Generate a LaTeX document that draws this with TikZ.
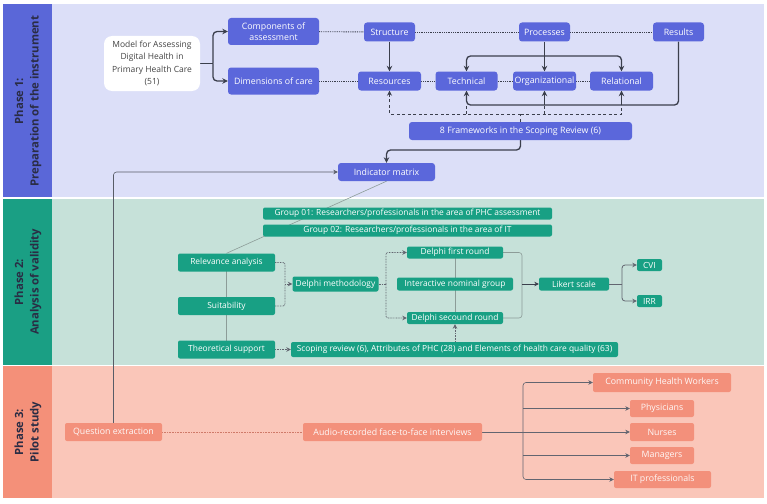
\documentclass[tikz,border=0pt]{standalone}
\usepackage{fontspec}
\setmainfont{Open Sans}
\usetikzlibrary{arrows.meta}
\definecolor{bgA}{HTML}{DCDFF8}
\definecolor{colA}{HTML}{5A67D8}
\definecolor{nodeA}{HTML}{5B67DB}
\definecolor{bgB}{HTML}{C6E1D9}
\definecolor{colB}{HTML}{1A9F84}
\definecolor{nodeB}{HTML}{18A084}
\definecolor{bgC}{HTML}{FAC6B9}
\definecolor{colC}{HTML}{F49079}
\definecolor{nodeC}{HTML}{F3907B}
\definecolor{lineD}{HTML}{3B3F4C}
\definecolor{lineG}{HTML}{8C9C98}
\definecolor{txtD}{HTML}{444444}
\definecolor{lblT}{HTML}{2A2C44}
\pgfdeclarelayer{bands}
\pgfdeclarelayer{lines}
\pgfsetlayers{bands,lines,main}
\tikzset{
  sz/.style 2 args={minimum width=#1pt, minimum height=#2pt},
  basebox/.style={inner sep=0pt, align=center, font=\fontsize{8.8}{11.5}\selectfont, text=white},
  nA/.style={basebox, fill=nodeA, rounded corners=3pt},
  nB/.style={basebox, fill=nodeB, rounded corners=2pt, font=\fontsize{8.4}{10}\selectfont},
  nC/.style={basebox, fill=nodeC, rounded corners=2pt, text=white!94!nodeC},
  nW/.style={basebox, fill=white, text=txtD, rounded corners=8pt, font=\fontsize{8.5}{12.5}\selectfont},
  phaselbl/.style={rotate=90, align=center, font=\fontsize{11.3}{15.5}\selectfont\bfseries, text=lblT},
  thk/.style={draw=lineD, line width=1.3pt},
  thkar/.style={thk, -{Stealth[length=5.5pt,width=5.5pt]}},
  dotA/.style={draw=lineD, line width=0.9pt, dash pattern=on 0.9pt off 0.9pt},
  dsh/.style={draw=lineD, line width=0.9pt, dash pattern=on 3pt off 2.5pt},
  dshar/.style={dsh, -{Stealth[length=5pt,width=5pt]}},
  thinar/.style={draw=lineD!85, line width=0.6pt, -{Stealth[length=4.5pt,width=4.5pt]}},
  gline/.style={draw=lineG, line width=0.6pt},
  dotB/.style={draw=lineD!80, line width=0.8pt, dash pattern=on 0.8pt off 0.8pt},
  dotBar/.style={dotB, -{Stealth[length=4.5pt,width=4.5pt]}},
  darkar/.style={draw=lineD, line width=0.7pt, -{Stealth[length=4.5pt,width=4.5pt]}},
  gline2/.style={draw=lineD!80, line width=0.8pt},
  gline2ar/.style={gline2, -{Stealth[length=4.5pt,width=4.5pt]}},
  dotC/.style={draw=nodeC!85!black, line width=0.8pt, dash pattern=on 0.8pt off 0.8pt},
  cline/.style={draw=lineD!80, line width=0.6pt},
  car/.style={cline, -{Stealth[length=4.5pt,width=4.5pt]}}
}
\begin{document}
\begin{tikzpicture}[x=1pt,y=-1pt]
\useasboundingbox (0,0) rectangle (767,503);
\begin{pgfonlayer}{bands}
\fill[bgA] (52,4) rectangle (764,197);
\fill[colA] (3,4) rectangle (52,197);
\fill[bgB] (52,198.5) rectangle (764,365);
\fill[colB] (3,198.5) rectangle (52,365);
\fill[bgC] (52,366) rectangle (764,498);
\fill[colC] (3,366) rectangle (52,498);
\end{pgfonlayer}
% phase labels
\node[phaselbl] (p1) at (28,101) {Phase 1:\\Preparation of the instrument};
\node[phaselbl] (p2) at (28,282) {Phase 2:\\Analysis of validity};
\node[phaselbl] (p3) at (28,432) {Phase 3:\\Pilot study};
% phase 1 nodes
\node[nW, sz={96}{55}] (model) at (152,63.5) {Model for Assessing\\Digital Health in\\Primary Health Care\\(51)};
\node[nA, sz={91}{27}] (comp) at (273.5,31.5) {Components of\\assessment};
\node[nA, sz={91}{27}] (dim) at (273.5,81) {Dimensions of care};
\node[nA, sz={51}{19}] (struct) at (389.5,32) {Structure};
\node[nA, sz={51}{19}] (proc) at (544.5,32) {Processes};
\node[nA, sz={51}{19}] (resu) at (678.5,32) {Results};
\node[nA, sz={63}{19}] (reso) at (389.5,81) {Resources};
\node[nA, sz={62}{19}] (tech) at (466.5,81) {Technical};
\node[nA, sz={63}{19}] (org) at (544.5,81) {Organizational};
\node[nA, sz={63}{19}] (rel) at (621.5,81) {Relational};
\node[nA, sz={223}{18}] (frame) at (520.5,131) {8 Frameworks in the Scoping Review (6)};
\node[nA, sz={97}{18}] (indic) at (386.5,172) {Indicator matrix};
% phase 2 nodes
\node[nB, sz={289}{12}] (g1) at (407.5,213.5) {Group 01: Researchers/professionals in the area of PHC assessment};
\node[nB, sz={289}{12}] (g2) at (407.5,230.5) {Group 02: Researchers/professionals in the area of IT};
\node[nB, sz={97}{18}] (relev) at (226.5,262.5) {Relevance analysis};
\node[nB, sz={97}{18}] (suit) at (226.5,306) {Suitability};
\node[nB, sz={97}{18}] (theo) at (226.5,349.5) {Theoretical support};
\node[nB, sz={86}{15}] (delm) at (335.5,284) {Delphi methodology};
\node[nB, sz={96}{12}] (d1) at (455,252.5) {Delphi first round};
\node[nB, sz={116}{13}] (ing) at (455,284) {Interactive nominal group};
\node[nB, sz={96}{12}] (d2) at (455,318) {Delphi secound round};
\node[nB, sz={70}{13}] (lik) at (574,284) {Likert scale};
\node[nB, sz={25}{12}] (cvi) at (649.5,265) {CVI};
\node[nB, sz={25}{12}] (irr) at (649.5,301) {IRR};
\node[nB, sz={327}{15}] (scop) at (454.5,349.5) {Scoping review (6), Attributes of PHC (28) and Elements of health care quality (63)};
% phase 3 nodes
\node[nC, sz={97}{18}] (qext) at (113.5,432) {Question extraction};
\node[nC, sz={179}{18}] (audio) at (392.5,432) {Audio-recorded face-to-face interviews};
\node[nC, sz={138}{19}] (chw) at (662,382.5) {Community Health Workers};
\node[nC, sz={64}{17}] (phys) at (662,408.5) {Physicians};
\node[nC, sz={64}{18}] (nurs) at (662,432) {Nurses};
\node[nC, sz={64}{17}] (mana) at (662,455.5) {Managers};
\node[nC, sz={97}{17}] (itp) at (662.5,479.5) {IT professionals};
% coordinates
\coordinate (mj) at (213,63.5);
\coordinate (pj) at (544.5,56);
\coordinate (rj) at (544.5,105);
\coordinate (rk) at (621.5,105);
\coordinate (rt) at (466.5,105);
\coordinate (fj) at (520.5,114);
\coordinate (ft) at (466.5,114);
\coordinate (fo) at (544.5,114);
\coordinate (fi) at (520.5,150);
\coordinate (rsj) at (285,284);
\coordinate (dj) at (386,284);
\coordinate (lj) at (522,284);
\coordinate (cj) at (622,284);
\coordinate (aj) at (523,432);
\begin{pgfonlayer}{lines}
% phase 1
\draw[thk] (model.east) -- (mj);
\draw[thkar, rounded corners=4pt] (mj) |- (comp.west);
\draw[thkar, rounded corners=4pt] (mj) |- (dim.west);
\draw[dotA] (comp) -- (struct);
\draw[dotA] (dim) -- (reso);
\draw[dotA] (struct) -- (proc);
\draw[dotA] (proc) -- (resu);
\draw[dotA] (reso) -- (tech);
\draw[dotA] (tech) -- (org);
\draw[dotA] (org) -- (rel);
\draw[thkar] (struct) -- (reso);
\draw[thk] (proc.south) -- (pj);
\draw[thkar, rounded corners=4pt] (pj) -| (tech.north);
\draw[thkar, rounded corners=4pt] (pj) -| (rel.north);
\draw[thkar] (pj) -- (org.north);
\draw[thkar, rounded corners=4pt] (resu.south) |- (rj) -| (tech.south);
\draw[thkar] (rj) -- (org.south);
\draw[thkar] (rk) -- (rel.south);
\draw[dsh] (frame.north) -- (fj);
\draw[dshar] (fj) -| (reso.south);
\draw[dsh] (fj) -| (rk);
\draw[dsh] (ft) -- (rt);
\draw[dsh] (fo) -- (rj);
\draw[thkar, rounded corners=4pt] (frame.south) -- (fi) -| (indic.north);
\draw[thinar, rounded corners=3pt] (qext.north) |- (indic.west);
% phase 2
\draw[gline] (indic.south) -- (relev.north);
\draw[gline] (relev.center) -- (theo.center);
\draw[dotB, rounded corners=2pt] (relev.east) -| (rsj);
\draw[dotB, rounded corners=2pt] (suit.east) -| (rsj);
\draw[dotBar] (rsj) -- (delm.west);
\draw[dotB] (delm.east) -- (dj);
\draw[dotBar, rounded corners=2pt] (dj) |- (d1.west);
\draw[dotBar, rounded corners=2pt] (dj) |- (d2.west);
\draw[gline] (d1.center) -- (d2.center);
\draw[gline, rounded corners=3pt] (d1.east) -| (lj);
\draw[gline, rounded corners=3pt] (d2.east) -| (lj);
\draw[darkar] (lj) -- (lik.west);
\draw[gline2] (lik.east) -- (cj);
\draw[gline2ar, rounded corners=3pt] (cj) |- (cvi.west);
\draw[gline2ar, rounded corners=3pt] (cj) |- (irr.west);
\draw[dotBar] (theo.east) -- (scop.west);
\draw[dotBar] (d2.south |- scop.north) -- (d2.south);
% phase 3
\draw[dotC] (qext) -- (audio);
\draw[cline, line width=0.9pt] (audio.east) -- (aj);
\draw[car, rounded corners=3pt] (aj) |- (chw.west);
\draw[car] (aj |- phys.west) -- (phys.west);
\draw[car] (aj) -- (nurs.west);
\draw[car] (aj |- mana.west) -- (mana.west);
\draw[car, rounded corners=3pt] (aj) |- (itp.west);
\end{pgfonlayer}
\end{tikzpicture}
\end{document}
